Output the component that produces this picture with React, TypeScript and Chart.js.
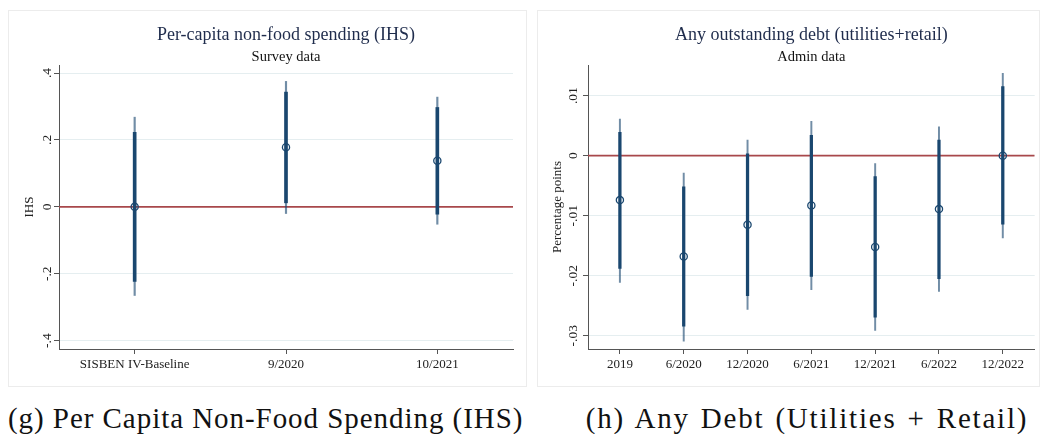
import React, { useEffect, useRef } from "react";
import { Chart, registerables } from "chart.js";

Chart.register(...registerables);

// ---------- Left panel data ----------
const leftCategories = ["SISBEN IV-Baseline", "9/2020", "10/2021"];
const leftPoint = [0.0, 0.178, 0.138];
const leftLo90 = [-0.223, 0.012, -0.022];
const leftHi90 = [0.223, 0.343, 0.297];
const leftLo95 = [-0.265, -0.02, -0.052];
const leftHi95 = [0.268, 0.375, 0.328];
const leftYTicks = [-0.4, -0.2, 0, 0.2, 0.4];
const leftYTickLabels = ["-.4", "-.2", "0", ".2", ".4"];

// ---------- Right panel data ----------
const rightCategories = ["2019", "6/2020", "12/2020", "6/2021", "12/2021", "6/2022", "12/2022"];
const rightPoint = [-0.0074, -0.0168, -0.0115, -0.0083, -0.0152, -0.0089, 0.0];
const rightLo90 = [-0.0188, -0.0284, -0.0233, -0.0201, -0.0269, -0.0205, -0.0114];
const rightHi90 = [0.0039, -0.0052, 0.0003, 0.0034, -0.0035, 0.0026, 0.0115];
const rightLo95 = [-0.0211, -0.0309, -0.0256, -0.0223, -0.0291, -0.0226, -0.0137];
const rightHi95 = [0.0061, -0.0029, 0.0026, 0.0057, -0.0013, 0.0048, 0.0137];
const rightYTicks = [-0.03, -0.02, -0.01, 0, 0.01];
const rightYTickLabels = ["-.03", "-.02", "-.01", "0", ".01"];

const NAVY = "#1a476f";
const THIN = "rgba(26,71,111,0.62)";
const REFLINE = "#a8484b";
const AXIS = "#555555";
const GRID = "#e5eef0";
const SERIF = '"Liberation Serif", "Times New Roman", serif';

const textPlugin = {
  id: "panelText",
  afterDraw(chart: any, _args: any, opts: any) {
    const { ctx, chartArea, scales } = chart;
    const cx = (chartArea.left + chartArea.right) / 2;
    ctx.save();
    ctx.textAlign = "center";
    ctx.textBaseline = "middle";
    ctx.fillStyle = "#1f2c4c";
    ctx.font = `18px ${SERIF}`;
    ctx.fillText(opts.title, cx, opts.titleY);
    ctx.fillStyle = "#111111";
    ctx.font = `14.5px ${SERIF}`;
    ctx.fillText(opts.subtitle, cx, opts.subtitleY);

    ctx.fillStyle = "#222222";
    ctx.font = `13.5px ${SERIF}`;
    opts.yTicks.forEach((v: number, i: number) => {
      const y = scales.y.getPixelForValue(v);
      ctx.save();
      ctx.translate(opts.yLabelX, y);
      ctx.rotate(-Math.PI / 2);
      ctx.fillText(opts.yTickLabels[i], 0, 0);
      ctx.restore();
    });

    ctx.font = `13px ${SERIF}`;
    ctx.save();
    ctx.translate(opts.yTitleX, (chartArea.top + chartArea.bottom) / 2);
    ctx.rotate(-Math.PI / 2);
    ctx.fillText(opts.yTitle, 0, 0);
    ctx.restore();
    ctx.restore();
  },
};

type PanelProps = {
  left: number;
  top: number;
  width: number;
  height: number;
  pad: { left: number; right: number; top: number; bottom: number };
  xAxisHeight: number;
  title: string;
  subtitle: string;
  yTitle: string;
  categories: string[];
  point: number[];
  lo90: number[];
  hi90: number[];
  lo95: number[];
  hi95: number[];
  yTicks: number[];
  yTickLabels: string[];
  yMin: number;
  yMax: number;
  thick: number;
  thin: number;
  yLabelX: number;
  yTitleX: number;
};

function Panel(p: PanelProps) {
  const ref = useRef<HTMLCanvasElement>(null);
  useEffect(() => {
    const n = p.categories.length;
    const xs = p.categories.map((_, i) => i);
    const chart = new Chart(ref.current as HTMLCanvasElement, {
      type: "bar",
      data: {
        datasets: [
          {
            type: "line",
            data: [
              { x: -0.5, y: 0 },
              { x: n - 0.5, y: 0 },
            ],
            borderColor: REFLINE,
            borderWidth: 1.6,
            pointRadius: 0,
            order: 4,
          } as any,
          {
            type: "bar",
            data: xs.map((i) => ({ x: i, y: [p.lo95[i], p.hi95[i]] })),
            backgroundColor: THIN,
            borderWidth: 0,
            barThickness: p.thin,
            grouped: false,
            order: 3,
          } as any,
          {
            type: "bar",
            data: xs.map((i) => ({ x: i, y: [p.lo90[i], p.hi90[i]] })),
            backgroundColor: NAVY,
            borderWidth: 0,
            barThickness: p.thick,
            grouped: false,
            order: 2,
          } as any,
          {
            type: "scatter",
            data: xs.map((i) => ({ x: i, y: p.point[i] })),
            pointRadius: 3.6,
            pointBorderWidth: 1.3,
            pointBorderColor: NAVY,
            pointBackgroundColor: "rgba(0,0,0,0)",
            order: 1,
          } as any,
        ],
      },
      options: {
        responsive: false,
        animation: false,
        layout: { padding: p.pad },
        plugins: {
          legend: { display: false },
          tooltip: { enabled: false },
          panelText: {
            title: p.title,
            subtitle: p.subtitle,
            yTitle: p.yTitle,
            yTicks: p.yTicks,
            yTickLabels: p.yTickLabels,
            titleY: 25,
            subtitleY: 47,
            yLabelX: p.yLabelX,
            yTitleX: p.yTitleX,
          },
        } as any,
        scales: {
          x: {
            type: "linear",
            min: -0.5,
            max: n - 0.5,
            offset: false,
            afterFit: (s: any) => {
              s.height = p.xAxisHeight;
            },
            afterBuildTicks: (s: any) => {
              s.ticks = xs.map((v) => ({ value: v }));
            },
            ticks: {
              autoSkip: false,
              maxRotation: 0,
              minRotation: 0,
              padding: 3,
              color: "#222222",
              font: { family: SERIF, size: 13 },
              callback: (_v: any, i: number) => p.categories[i],
            },
            grid: { offset: false, drawOnChartArea: false, tickLength: 5, tickColor: AXIS, tickWidth: 1 },
            border: { color: AXIS, width: 1 },
          },
          y: {
            type: "linear",
            min: p.yMin,
            max: p.yMax,
            afterFit: (s: any) => {
              s.width = 0;
            },
            afterBuildTicks: (s: any) => {
              s.ticks = p.yTicks.map((v) => ({ value: v }));
            },
            ticks: { display: false },
            grid: { color: GRID, lineWidth: 1, tickLength: 5, tickColor: AXIS, tickWidth: 1 },
            border: { color: AXIS, width: 1 },
          },
        } as any,
      },
      plugins: [textPlugin],
    });
    return () => chart.destroy();
  }, []);

  return (
    <>
      <div
        style={{
          position: "absolute",
          left: p.left,
          top: p.top,
          width: p.width,
          height: p.height,
          border: "1px solid #ececec",
          boxSizing: "border-box",
          background: "#ffffff",
        }}
      />
      <canvas
        ref={ref}
        width={p.width}
        height={p.height}
        style={{ position: "absolute", left: p.left, top: p.top, width: p.width, height: p.height }}
      />
    </>
  );
}

export default function App() {
  return (
    <div style={{ position: "absolute", left: 0, top: 0, width: 1040, height: 434, background: "#ffffff", overflow: "hidden" }}>
      <Panel
        left={8}
        top={10}
        width={519}
        height={377}
        pad={{ left: 51, right: 14, top: 55, bottom: 0 }}
        xAxisHeight={38}
        title="Per-capita non-food spending (IHS)"
        subtitle="Survey data"
        yTitle="IHS"
        categories={leftCategories}
        point={leftPoint}
        lo90={leftLo90}
        hi90={leftHi90}
        lo95={leftLo95}
        hi95={leftHi95}
        yTicks={leftYTicks}
        yTickLabels={leftYTickLabels}
        yMin={-0.425}
        yMax={0.424}
        thick={3}
        thin={1.5}
        yLabelX={39}
        yTitleX={22}
      />
      <Panel
        left={537}
        top={10}
        width={503}
        height={377}
        pad={{ left: 51, right: 0, top: 55, bottom: 0 }}
        xAxisHeight={38}
        title="Any outstanding debt (utilities+retail)"
        subtitle="Admin data"
        yTitle="Percentage points"
        categories={rightCategories}
        point={rightPoint}
        lo90={rightLo90}
        hi90={rightHi90}
        lo95={rightLo95}
        hi95={rightHi95}
        yTicks={rightYTicks}
        yTickLabels={rightYTickLabels}
        yMin={-0.0322}
        yMax={0.0151}
        thick={2.6}
        thin={1.3}
        yLabelX={36}
        yTitleX={21}
      />
      <div
        style={{
          position: "absolute",
          left: 8,
          top: 404,
          width: 515,
          textAlign: "center",
          whiteSpace: "nowrap",
          fontFamily: SERIF,
          fontSize: 29,
          lineHeight: "29px",
          letterSpacing: "0.95px",
          color: "#111111",
        }}
      >
        (g) Per Capita Non-Food Spending (IHS)
      </div>
      <div
        style={{
          position: "absolute",
          left: 584,
          top: 404,
          width: 446,
          textAlign: "center",
          whiteSpace: "nowrap",
          fontFamily: SERIF,
          fontSize: 29,
          lineHeight: "29px",
          letterSpacing: "1.8px",
          wordSpacing: "2px",
          color: "#111111",
        }}
      >
        (h) Any Debt (Utilities + Retail)
      </div>
    </div>
  );
}
